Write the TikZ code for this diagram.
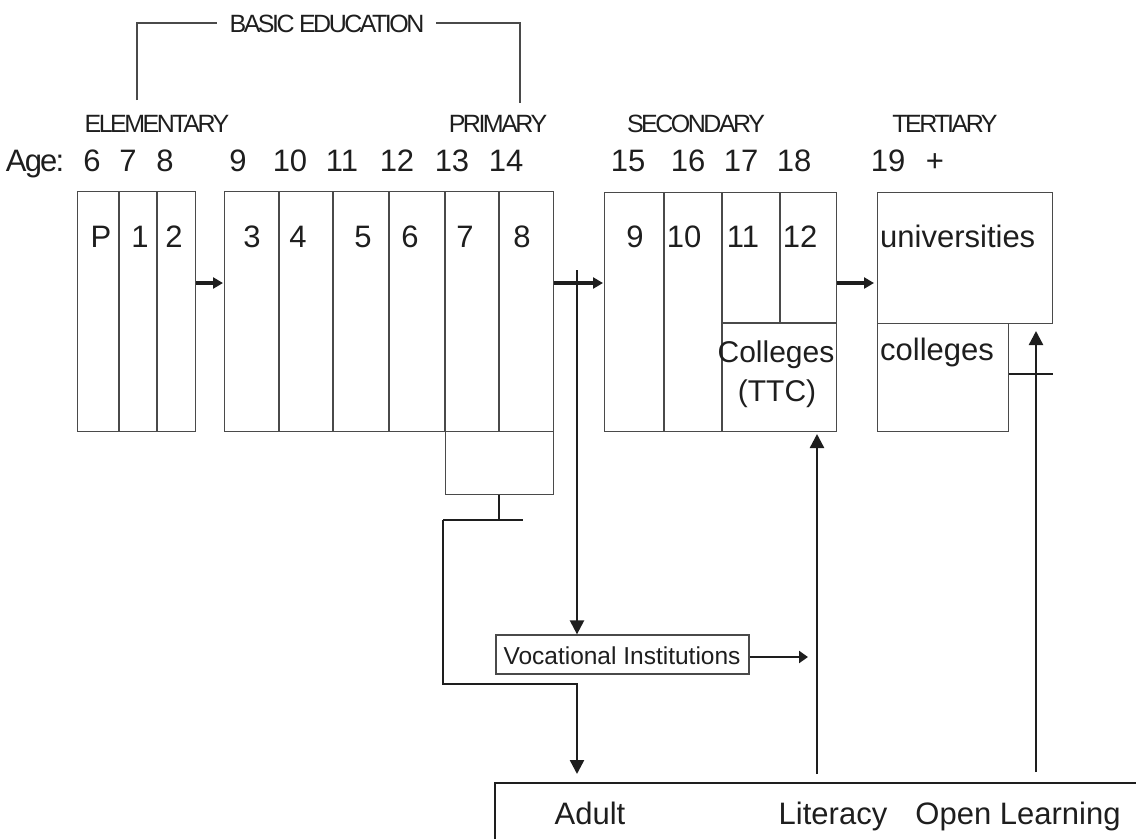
\documentclass[tikz,border=0pt]{standalone}
\usepackage{fontspec}
\setmainfont{Liberation Sans}
\usetikzlibrary{arrows.meta,calc}
\definecolor{boxgray}{HTML}{4A4A4A}
\definecolor{ink}{HTML}{1E1E1E}
\tikzset{
  box/.style={draw=boxgray, line width=1.3pt, inner sep=0pt, anchor=north west},
  cellline/.style={draw=boxgray, line width=1.3pt},
  conn/.style={draw=ink, line width=2.4pt},
  thinarrow/.style={conn, -{Triangle[length=14pt,width=14pt]}},
  smallarrow/.style={conn, -{Triangle[length=9pt,width=12pt]}},
  fatarrow/.style={draw=ink, line width=4pt, -{Triangle[length=10pt,width=11pt]}},
  big/.style={font=\fontsize{31}{36}\selectfont, text=ink, inner sep=0pt, anchor=base},
  head/.style={font=\addfontfeature{LetterSpace=-10}\fontsize{25}{28}\selectfont, text=ink, inner sep=0pt, anchor=base},
  voc/.style={draw=boxgray, line width=1.3pt, inner sep=0pt, minimum width=253pt, minimum height=39pt},
}
\begin{document}
\begin{tikzpicture}[x=1pt,y=-1pt]
\useasboundingbox (0,0) rectangle (1136,839);

% ---- headings
\node[head] (basic) at (327,32) {BASIC EDUCATION};
\node[head] (elemh) at (157,132) {ELEMENTARY};
\node[head] (primh) at (498,132) {PRIMARY};
\node[head] (sech) at (696,132) {SECONDARY};
\node[head] (terh) at (945,132) {TERTIARY};
\coordinate (bl) at (137,100);
\coordinate (br) at (520,103);
\draw[line width=1.3pt, draw=boxgray] (bl) -- (137,23) -- (217,23);
\draw[line width=1.3pt, draw=boxgray] (436,23) -- (520,23) -- (br);

% ---- ages
\node[big, font=\addfontfeature{LetterSpace=-6}\fontsize{31}{36}\selectfont] (age) at (35,171) {Age:};
\node[big] (a6) at (92,171) {6};
\node[big] (a7) at (128,171) {7};
\node[big] (a8) at (165,171) {8};
\node[big] (a9) at (238,171) {9};
\node[big] (a10) at (290,171) {10};
\node[big] (a11) at (342,171) {11};
\node[big] (a12) at (397,171) {12};
\node[big] (a13) at (452,171) {13};
\node[big] (a14) at (506,171) {14};
\node[big] (a15) at (628,171) {15};
\node[big] (a16) at (688,171) {16};
\node[big] (a17) at (741,171) {17};
\node[big] (a18) at (794,171) {18};
\node[big] (a19) at (888,171) {19};
\node[big] (aplus) at (935,171) {+};

% ---- elementary box
\node[box, minimum width=118pt, minimum height=240pt] (elem) at (77,191) {};
\draw[cellline] (119,191) -- (119,431);
\draw[cellline] (157,191) -- (157,431);
\node[big] (gP) at (101,247) {P};
\node[big] (g1) at (140,247) {1};
\node[big] (g2) at (174,247) {2};

% ---- primary box
\node[box, minimum width=329pt, minimum height=240pt] (prim) at (224,191) {};
\foreach \x in {279,333,389,445,499} \draw[cellline] (\x,191) -- (\x,431);
\node[big] (g3) at (252,247) {3};
\node[big] (g4) at (298,247) {4};
\node[big] (g5) at (363,247) {5};
\node[big] (g6) at (410,247) {6};
\node[big] (g7) at (465,247) {7};
\node[big] (g8) at (522,247) {8};
\node[box, minimum width=108pt, minimum height=63pt] (sub) at (445,431) {};

% ---- secondary box
\node[box, minimum width=232pt, minimum height=239pt] (sec) at (604,192) {};
\draw[cellline] (664,192) -- (664,431);
\draw[cellline] (722,192) -- (722,431);
\draw[cellline] (780,192) -- (780,323);
\draw[cellline] (722,323) -- (836,323);
\node[big] (g9) at (635,247) {9};
\node[big] (g10) at (684,247) {10};
\node[big] (g11) at (743,247) {11};
\node[big] (g12) at (800,247) {12};
\node[big, font=\fontsize{30}{35}\selectfont] (ttc1) at (776,362) {Colleges};
\node[big, font=\fontsize{30}{35}\selectfont] (ttc2) at (777,401) {(TTC)};

% ---- tertiary
\node[box, minimum width=175pt, minimum height=131pt] (univ) at (877,192) {};
\node[box, minimum width=131pt, minimum height=108pt] (coll) at (877,323) {};
\node[big, anchor=base west] (univt) at (880,247) {universities};
\node[big, anchor=base west] (collt) at (880,360) {colleges};

% ---- vocational
\node[voc] (vocb) at (622.5,654.5) {};
\node[big, font=\fontsize{24.5}{28}\selectfont] (voct) at (622,664) {Vocational Institutions};

% ---- adult box (open)
\coordinate (adl) at (495,839);
\coordinate (adr) at (1136,783);
\draw[conn] (adl) -- (495,783) -- (adr);
\node[big] (adult) at (590,824) {Adult};
\node[big] (lit) at (833,824) {Literacy};
\node[big] (open) at (1018,824) {Open Learning};

% ---- main flow arrows
\draw[fatarrow] ($(elem.north east)+(0,92)$) -- ($(prim.north west)+(-1,92)$);
\draw[fatarrow] ($(prim.north east)+(0,92)$) -- ($(sec.north west)+(-1,91)$);
\draw[fatarrow] ($(sec.north east)+(0,91)$) -- ($(univ.north west)+(-3,91)$);

% ---- to vocational
\coordinate (vtop) at (577,270);
\draw[thinarrow] (vtop) -- (vocb.north -| vtop);
\coordinate (vout) at (808,657);
\draw[smallarrow] (vocb.east |- vout) -- (vout);

% ---- from sub box to adult
\coordinate (stem) at (499,520);
\draw[conn] (sub.south -| stem) -- (stem);
\draw[conn] (443,520) -- (523,520);
\draw[thinarrow] (443,520) -- (443,684) -- (577,684) -- (577,774);

% ---- upward arrows
\coordinate (litb) at (817,774);
\coordinate (litt) at (817,434);
\draw[thinarrow] (litb) -- (litt);
\coordinate (openb) at (1036,772);
\coordinate (opent) at (1036,331);
\draw[thinarrow] (openb) -- (opent);
\draw[conn] (coll.east |- 0,374) -- (univ.east |- 0,374);
\end{tikzpicture}
\end{document}
